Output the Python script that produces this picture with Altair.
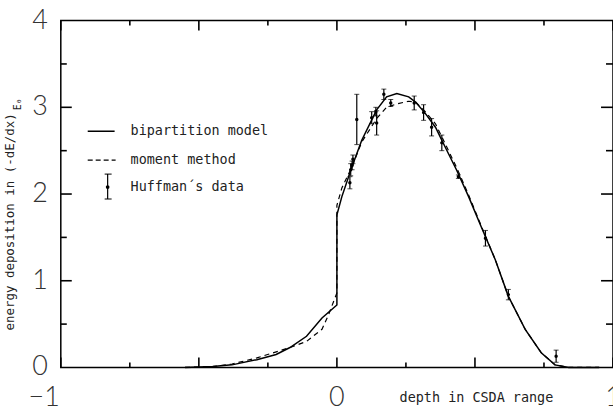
import altair as alt
import pandas as pd

# ---- data ----
solid_x = [-0.55, -0.45, -0.38, -0.29, -0.22, -0.17, -0.11, -0.054, 0.0, 0.0, 0.018, 0.054, 0.09,
           0.144, 0.18, 0.217, 0.26, 0.285, 0.32, 0.357, 0.38, 0.433, 0.477, 0.523, 0.574,
           0.621, 0.682, 0.74, 0.79, 0.84, 0.95]
solid_y = [0.0, 0.01, 0.03, 0.09, 0.15, 0.23, 0.36, 0.57, 0.72, 1.76, 1.97, 2.31, 2.62,
           2.97, 3.12, 3.16, 3.12, 3.06, 2.93, 2.77, 2.62, 2.28, 1.97, 1.62, 1.24,
           0.82, 0.44, 0.17, 0.03, 0.0, 0.0]

dash_x = [-0.55, -0.45, -0.38, -0.29, -0.17, -0.11, -0.054, -0.03, 0.0, 0.0, 0.018, 0.054, 0.09,
          0.144, 0.18, 0.217, 0.26, 0.285, 0.32, 0.357, 0.38, 0.433, 0.477, 0.523, 0.574,
          0.621, 0.682, 0.74, 0.79, 0.84, 0.95]
dash_y = [0.0, 0.01, 0.04, 0.11, 0.23, 0.30, 0.44, 0.61, 0.86, 1.87, 2.07, 2.31, 2.60,
          2.87, 3.00, 3.04, 3.07, 3.06, 2.95, 2.81, 2.66, 2.31, 1.99, 1.63, 1.24,
          0.82, 0.44, 0.17, 0.03, 0.0, 0.0]

huff_x = [0.047, 0.050, 0.055, 0.058, 0.072, 0.126, 0.141, 0.144, 0.170, 0.195,
          0.280, 0.314, 0.343, 0.380, 0.440, 0.538, 0.621, 0.794]
huff_y = [2.13, 2.28, 2.33, 2.40, 2.86, 2.88, 2.95, 2.82, 3.15, 3.05,
          3.05, 2.94, 2.77, 2.59, 2.20, 1.49, 0.84, 0.13]
huff_err = [0.07, 0.07, 0.05, 0.05, 0.29, 0.07, 0.05, 0.14, 0.06, 0.04,
            0.08, 0.09, 0.10, 0.09, 0.02, 0.09, 0.06, 0.07]

x_label_values = [-1, 0, 1]
x_label_text = ["−1", "0", "1"]
y_label_values = [0, 1, 2, 3, 4]
y_label_text = ["0", "1", "2", "3", "4"]
x_major = [-1, -0.5, 0, 0.5, 1]
x_minor = [-0.75, -0.25, 0.25, 0.75]
y_major = [1, 2, 3]
y_minor = [0.5, 1.5, 2.5, 3.5]

legend_labels = ["bipartition model", "moment method", "Huffman´s data"]

W, H = 554, 348
MONO = "DejaVu Sans Mono"
NUMFONT = "Lato"
XMIN, XMAX, YMIN, YMAX = -1, 1, 0, 4
XU = (XMAX - XMIN) / W   # data units per pixel
YU = (YMAX - YMIN) / H

xs = alt.Scale(domain=[XMIN, XMAX], nice=False, zero=False)
ys = alt.Scale(domain=[YMIN, YMAX], nice=False, zero=False)

solid_df = pd.DataFrame({"x": solid_x, "y": solid_y, "i": range(len(solid_x))})
dash_df = pd.DataFrame({"x": dash_x, "y": dash_y, "i": range(len(dash_x))})
huff_df = pd.DataFrame({"x": huff_x, "y": huff_y,
                        "lo": [a - b for a, b in zip(huff_y, huff_err)],
                        "hi": [a + b for a, b in zip(huff_y, huff_err)]})

X = lambda f: alt.X(f, scale=xs, axis=None)
Y = lambda f: alt.Y(f, scale=ys, axis=None)

solid = alt.Chart(solid_df).mark_line(color="black", strokeWidth=1.5).encode(
    x=X("x:Q"), y=Y("y:Q"), order="i:Q")
dashed = alt.Chart(dash_df).mark_line(color="black", strokeWidth=1.2, strokeDash=[5, 4]).encode(
    x=X("x:Q"), y=Y("y:Q"), order="i:Q")

bars = alt.Chart(huff_df).mark_rule(color="black", strokeWidth=1.2).encode(
    x=X("x:Q"), y=Y("lo:Q"), y2="hi:Q")
caps_lo = alt.Chart(huff_df).mark_tick(color="black", orient="horizontal", size=5, thickness=1).encode(
    x=X("x:Q"), y=Y("lo:Q"))
caps_hi = alt.Chart(huff_df).mark_tick(color="black", orient="horizontal", size=5, thickness=1).encode(
    x=X("x:Q"), y=Y("hi:Q"))
pts = alt.Chart(huff_df).mark_circle(color="black", size=12, opacity=1).encode(
    x=X("x:Q"), y=Y("y:Q"))

# inward frame ticks: one table of short segments (x, x2, y, y2), drawn through the scales
rows = []
for v in x_major + x_minor:
    L = 10 if v in x_major else 5
    rows.append((v, v, YMIN, YMIN + L * YU))
    rows.append((v, v, YMAX, YMAX - L * YU))
for v in y_major + y_minor:
    L = 11 if v in y_major else 6
    rows.append((XMIN, XMIN + L * XU, v, v))
    rows.append((XMAX, XMAX - (L + 1) * XU, v, v))
tick_df = pd.DataFrame(rows, columns=["x1", "x2", "y1", "y2"])
ticks = alt.Chart(tick_df).mark_rule(color="black", strokeWidth=1.6).encode(
    x=X("x1:Q"), x2="x2:Q", y=Y("y1:Q"), y2="y2:Q")

# tick labels
xl_neg = pd.DataFrame({"v": x_label_values[:1], "t": x_label_text[:1]})
xl_pos = pd.DataFrame({"v": x_label_values[1:], "t": x_label_text[1:]})
xlab_neg = alt.Chart(xl_neg).mark_text(font=NUMFONT, fontSize=27, fontWeight=300, color="#333",
                                       baseline="middle", align="right", dx=-1).encode(
    x=X("v:Q"), y=alt.value(H + 31), text="t:N")
xlab_pos = alt.Chart(xl_pos).mark_text(font=NUMFONT, fontSize=27, fontWeight=300, color="#333",
                                       baseline="middle", align="center").encode(
    x=X("v:Q"), y=alt.value(H + 31), text="t:N")
yl_df = pd.DataFrame({"v": y_label_values, "t": y_label_text})
ylab = alt.Chart(yl_df).mark_text(font=NUMFONT, fontSize=27, fontWeight=300, color="#333",
                                  baseline="middle", align="right").encode(
    y=Y("v:Q"), x=alt.value(-13), text="t:N")

# axis titles
xtitle = alt.Chart(pd.DataFrame({"t": ["depth in CSDA range"]})).mark_text(
    font=MONO, fontSize=13.5, color="#222", align="center", baseline="middle").encode(
    text="t:N", x=alt.value(417), y=alt.value(H + 31))
ytitle = alt.Chart(pd.DataFrame({"t": ["energy deposition in (-dE/dx)"]})).mark_text(
    font=MONO, fontSize=12.5, color="#222", align="center", baseline="middle", angle=270).encode(
    text="t:N", x=alt.value(-51), y=alt.value(202))
sub = alt.Chart(pd.DataFrame({"t": ["E₀"]})).mark_text(
    font=MONO, fontSize=10, angle=270, color="#222", align="center", baseline="middle").encode(
    text="t:N", x=alt.value(-43), y=alt.value(84))

# legend
def leg_label(i, yy):
    return alt.Chart(pd.DataFrame({"label": [legend_labels[i]]})).mark_text(
        font=MONO, fontSize=13.5, align="left", baseline="middle", color="#222").encode(
        text="label:N", x=alt.value(70), y=alt.value(yy))

one = pd.DataFrame({"k": [0]})
leg_solid = alt.Chart(one).mark_rule(color="black", strokeWidth=1.5).encode(
    x=alt.value(27), x2=alt.value(54), y=alt.value(111))
leg_dash = alt.Chart(one).mark_rule(color="black", strokeWidth=1.2, strokeDash=[5, 3]).encode(
    x=alt.value(27), x2=alt.value(55), y=alt.value(140))
leg_bar = alt.Chart(one).mark_rule(color="black", strokeWidth=1.2).encode(
    x=alt.value(47), y=alt.value(154), y2=alt.value(179))
leg_cap1 = alt.Chart(one).mark_rule(color="black", strokeWidth=1).encode(
    x=alt.value(44), x2=alt.value(51), y=alt.value(154))
leg_cap2 = alt.Chart(one).mark_rule(color="black", strokeWidth=1).encode(
    x=alt.value(44), x2=alt.value(51), y=alt.value(179))
leg_pt = alt.Chart(one).mark_circle(color="black", size=14, opacity=1).encode(
    x=alt.value(47), y=alt.value(167))

chart = alt.layer(
    solid, dashed, bars, caps_lo, caps_hi, pts,
    xlab_neg, xlab_pos, ylab, xtitle, ytitle, sub,
    leg_label(0, 111), leg_label(1, 140), leg_label(2, 167),
    leg_solid, leg_dash, leg_bar, leg_cap1, leg_cap2, leg_pt, ticks
).properties(
    width=W, height=H,
    padding={"left": 61, "top": 20, "right": 0, "bottom": 38},
    autosize=alt.AutoSizeParams(type="none"),
    background="white",
).configure_view(stroke="black", strokeWidth=1.5)

chart.save("out.html", embed_options={"renderer": "svg", "actions": False})
